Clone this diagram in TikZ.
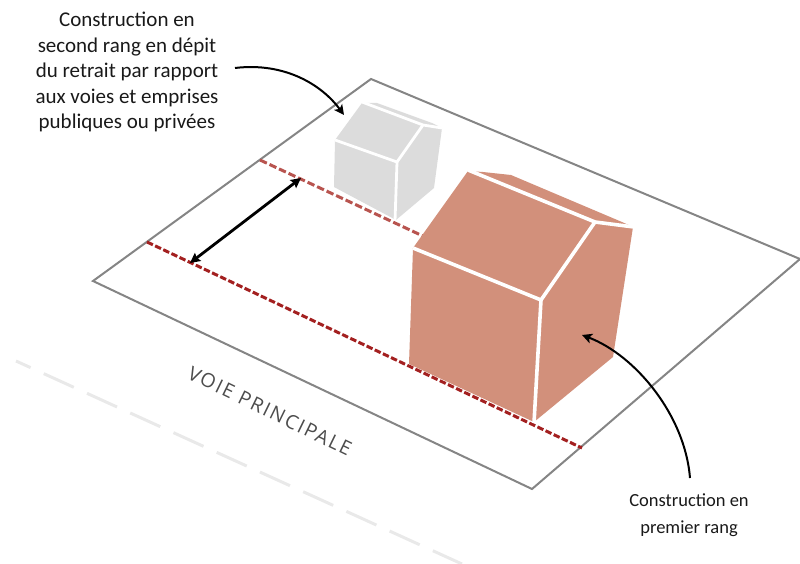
\documentclass[tikz,border=0pt]{standalone}
\usepackage{fontspec}
\setmainfont{Carlito}
\newfontfamily\roadfont[LetterSpace=10]{Open Sans}
\usetikzlibrary{arrows.meta}
\definecolor{brick}{HTML}{D2907B}
\definecolor{housegrey}{HTML}{DCDCDC}
\definecolor{plotline}{HTML}{858585}
\definecolor{darkred}{HTML}{A32020}
\definecolor{softred}{HTML}{B8544F}
\definecolor{roadline}{HTML}{E9E9E9}
\tikzset{
  x=1pt,y=-1pt,
  plotedge/.style={draw=plotline,line width=2pt,line join=miter},
  setback/.style={draw=darkred,line width=3pt,dash pattern=on 6.5pt off 2.5pt},
  setbacksoft/.style={draw=softred,line width=3pt,dash pattern=on 7.5pt off 3pt},
  road/.style={draw=roadline,line width=3pt,dash pattern=on 33pt off 14.5pt,dash phase=17pt},
  ridge/.style={draw=white,line width=3.6pt},
  smallridge/.style={draw=white,line width=2.8pt},
  callout/.style={draw=black,line width=2pt,-{Stealth[length=10pt,width=10pt,inset=2.5pt]}},
  measure/.style={draw=black,line width=2.8pt,{Stealth[length=10pt,width=10pt,inset=1.5pt]}-{Stealth[length=10pt,width=10pt,inset=1.5pt]}},
  capbig/.style={align=center,text=black!90,font=\fontsize{21}{25.5}\selectfont,inner sep=0pt},
  capsmall/.style={align=center,text=black!90,font=\fontsize{18.5}{27}\selectfont,inner sep=0pt},
}
\begin{document}
\begin{tikzpicture}
\useasboundingbox (0,0) rectangle (800,564);
% road
\coordinate (r1) at (16,361); \coordinate (r2) at (462,564);
\draw[road] (r1) -- (r2);
% plot
\coordinate (pa) at (93,281); \coordinate (pb) at (371,79);
\coordinate (pc) at (800,259); \coordinate (pd) at (532,489);
\draw[plotedge] (pc) -- (pb) -- (pa) -- (pd) -- (pc);
% setback lines
\coordinate (s1) at (147,242); \coordinate (s2) at (582,448);
\coordinate (t1) at (260,160); \coordinate (t2) at (425,237);
\draw[setback] (s1) -- (s2);
\draw[setbacksoft] (t1) -- (t2);
% grey house
\fill[housegrey] (334,187) -- (335,140) -- (362,103) -- (377,103) -- (432,123) -- (442,128) -- (434,188) -- (396,220) -- cycle;
\draw[smallridge] (335,140) -- (397,162) -- (395,221);
\draw[smallridge] (397,162) -- (423,125);
\draw[smallridge] (362,102) -- (423,125) -- (442,128);
% big house
\fill[brick] (409,364) -- (413,248) -- (468,171) -- (483,172) -- (511,175) -- (622,222) -- (633,227) -- (613,357) -- (534,422) -- cycle;
\draw[ridge] (413,248) -- (541,300) -- (534,423);
\draw[ridge] (541,300) -- (595,222);
\draw[ridge] (468,170) -- (595,222) -- (634,227);
% callouts
\node[capbig] (cap1) at (127,72) {Construction en\\second rang en dépit\\du retrait par rapport\\aux voies et emprises\\publiques ou privées};
\node[capsmall] (cap2) at (689,515) {Construction en\\premier rang};
\coordinate (h1) at (344,115);
\coordinate (h2) at (582,335);
\coordinate (c1s) at (235,68);
\coordinate (c2s) at (690,478);
\draw[callout] (c1s) .. controls (285,62) and (322,85) .. (h1);
\draw[callout] (c2s) .. controls (685,415) and (635,355) .. (h2);
\coordinate (m1) at (190,263); \coordinate (m2) at (301,178);
\draw[measure] (m1) -- (m2);
\node[rotate=-26,text=black!70,inner sep=0pt,font=\roadfont\fontsize{19.5}{22}\selectfont] (roadlabel) at (270,411) {VOIE PRINCIPALE};
\end{tikzpicture}
\end{document}
